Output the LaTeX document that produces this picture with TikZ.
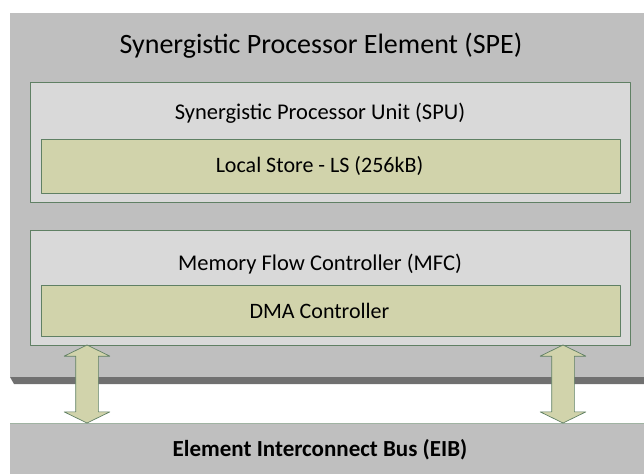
\documentclass[tikz,border=0pt]{standalone}
\usepackage{fontspec}
\setmainfont{Carlito}
\usetikzlibrary{positioning,shapes.arrows}
\definecolor{spegray}{RGB}{191,191,191}
\definecolor{unitgray}{RGB}{217,217,217}
\definecolor{olivefill}{RGB}{209,211,171}
\definecolor{edgegreen}{RGB}{96,128,100}
\definecolor{shadowgray}{RGB}{112,112,112}
\begin{document}
\begin{tikzpicture}[x=1pt, y=-1pt, line join=round,
		outer/.style={fill=spegray, inner sep=0pt, outer sep=0pt, anchor=north west},
		unit/.style={fill=unitgray, draw=edgegreen, line width=0.6pt, inner sep=0pt, outer sep=0pt, anchor=north west},
		part/.style={fill=olivefill, draw=edgegreen, line width=0.6pt, inner sep=0pt, outer sep=0pt, anchor=north west},
		midtext/.style={font=\fontsize{22.5}{26}\selectfont, xshift=-10pt},
		bus/.style={fill=olivefill, draw=edgegreen, line width=0.7pt, double arrow, shape border rotate=90, minimum height=78pt, minimum width=45pt, double arrow head extend=11.5pt, double arrow tip angle=128, inner sep=11pt}]
	\def\w{634} \def\uw{600} \def\pw{579} % Breiten
	\useasboundingbox (0,0) rectangle (644,474);
	% SPE
	\fill[shadowgray] (10,377) -- (644,377) -- (644,384) -- (14,384) -- cycle;
	\node[outer, minimum width=\w pt, minimum height=364pt] (spe) at (10,13) {};
	\node[font=\fontsize{28}{32}\selectfont] (spetitle) at (321,46) {Synergistic Processor Element (SPE)};
	% SPU mit LS
	\node[unit, minimum width=\uw pt, minimum height=120pt] (spu) at (30,82) {};
	\node[midtext, below=18pt of spu.north] (sputitle) {Synergistic Processor Unit (SPU)};
	\node[part, minimum width=\pw pt, minimum height=54pt] (ls) at (41,139) {};
	\node[font=\fontsize{22}{26}\selectfont, xshift=-11pt] (lstext) at (ls.center) {Local Store - LS (256kB)};
	% MFC mit DMA
	\node[unit, minimum width=\uw pt, minimum height=115pt] (mfc) at (30,230) {};
	\node[midtext, below=21pt of mfc.north] (mfctitle) {Memory Flow Controller (MFC)};
	\node[part, minimum width=\pw pt, minimum height=51pt] (dma) at (41,285) {};
	\node[font=\fontsize{22}{26}\selectfont, xshift=-11pt] (dmatext) at (dma.center) {DMA Controller};
	% EIB
	\node[outer, minimum width=\w pt, minimum height=51pt] (eib) at (10,423) {};
	\node[font=\fontsize{23}{27}\selectfont\bfseries, xshift=-7pt, yshift=-1pt] (eibtext) at (eib.center) {Element Interconnect Bus (EIB)};
	\draw[edgegreen!60, line width=0.7pt] (eib.north west) -- (eib.north east);
	% Verbindungen
	\node[bus] (busl) at (87,384) {};
	\node[bus] (busr) at (563,384) {};
\end{tikzpicture}
\end{document}
